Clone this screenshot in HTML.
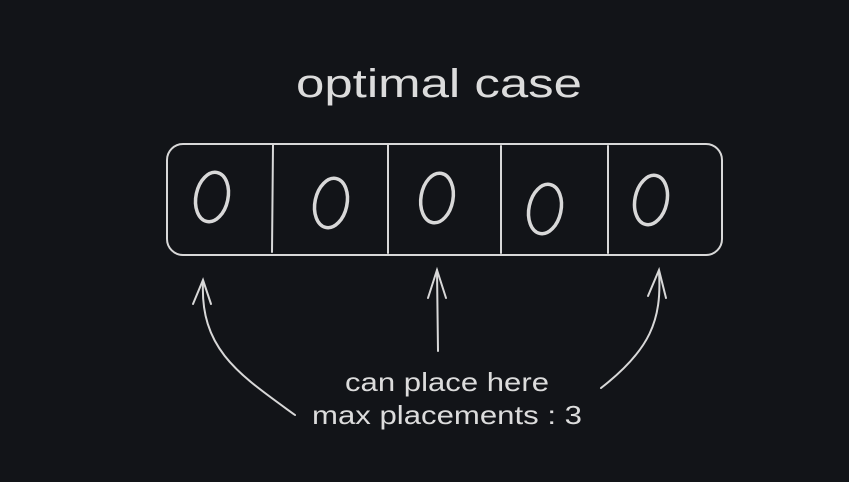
<!DOCTYPE html>
<html><head><style>
html,body{margin:0;padding:0;background:#121418;}
svg{display:block}
text{font-family:"Liberation Sans",sans-serif;fill:#dcdcdc}
</style></head><body>
<svg width="849" height="482" viewBox="0 0 849 482">
<rect width="849" height="482" fill="#121418"/>
<text x="296" y="97" font-size="40" textLength="286" lengthAdjust="spacingAndGlyphs">optimal case</text>
<g fill="none" stroke="#d8d8d8" stroke-width="2" stroke-linecap="round">
<rect x="167" y="144" width="555" height="111" rx="16"/>
<line x1="273" y1="145" x2="272" y2="252"/>
<line x1="388" y1="145" x2="388" y2="253"/>
<line x1="501" y1="146" x2="501" y2="253"/>
<line x1="608" y1="146" x2="608" y2="253"/>
<g stroke-width="3.5">
<ellipse cx="212" cy="197" rx="16" ry="25" transform="rotate(12 212 197)"/>
<ellipse cx="331" cy="203" rx="16" ry="25" transform="rotate(12 331 203)"/>
<ellipse cx="437" cy="198" rx="16" ry="25" transform="rotate(10 437 198)"/>
<ellipse cx="545" cy="209" rx="16" ry="25" transform="rotate(12 545 209)"/>
<ellipse cx="651" cy="200" rx="16" ry="25" transform="rotate(12 651 200)"/>
</g>
<path d="M295,415 C240,375 200,350 203,282"/>
<path d="M193,304 L203,280 L211,304"/>
<path d="M438,351 L437,270"/>
<path d="M428,298 L437,270 L446,298"/>
<path d="M601,388 C650,350 662,320 659,272"/>
<path d="M648,296 L659,270 L666,298"/>
</g>
<text x="345" y="391" font-size="26" textLength="204" lengthAdjust="spacingAndGlyphs">can place here</text>
<text x="312" y="424" font-size="26" textLength="270" lengthAdjust="spacingAndGlyphs">max placements : 3</text>
</svg>
</body></html>
